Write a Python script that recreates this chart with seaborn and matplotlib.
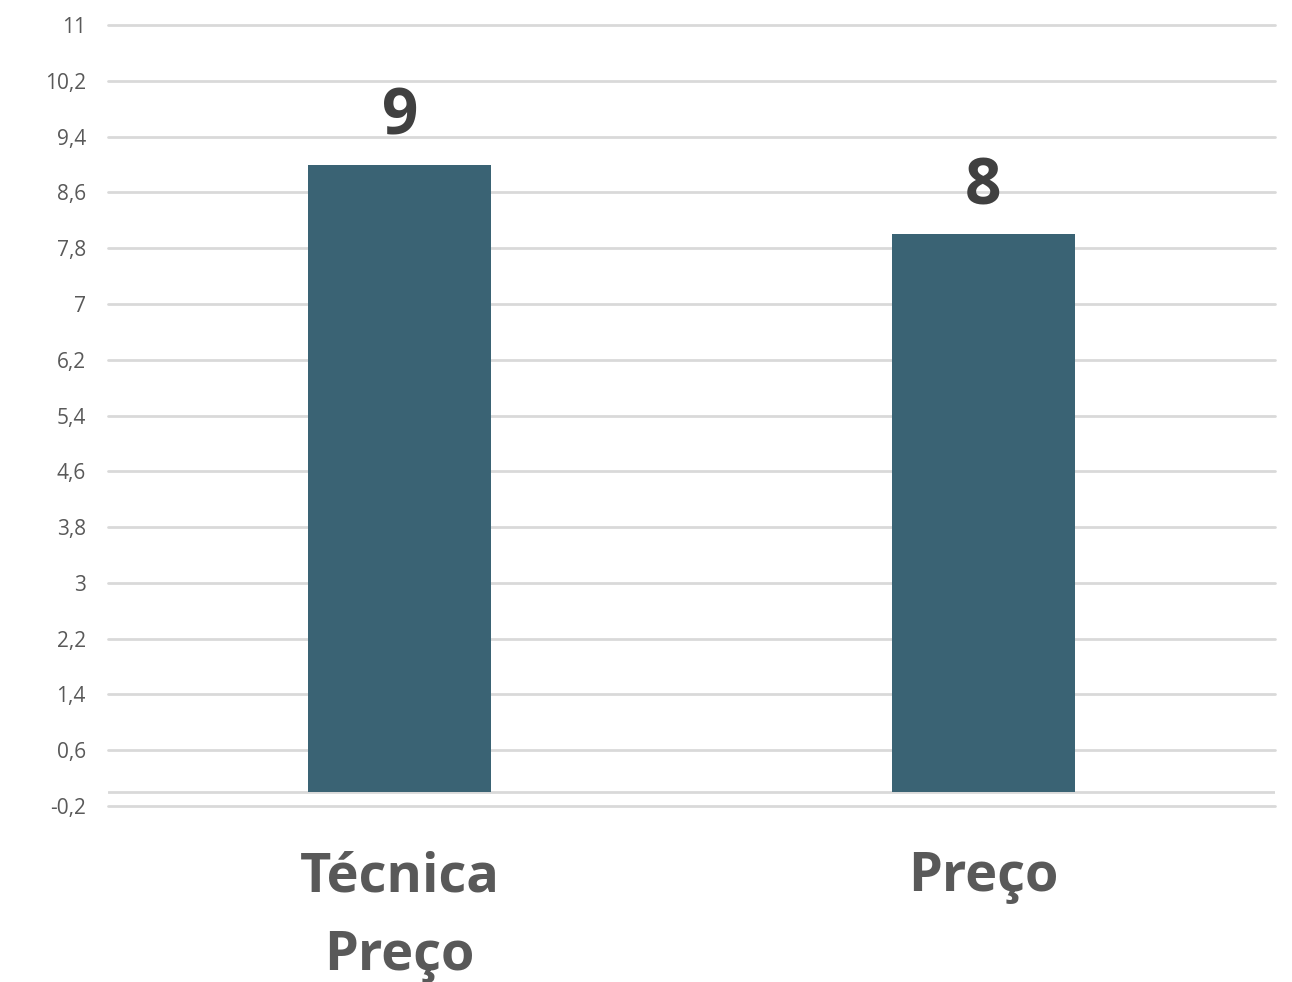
import matplotlib
matplotlib.use("Agg")
import matplotlib.pyplot as plt
import seaborn as sns
import pandas as pd

categories = ["Técnica\nPreço", "Preço"]
values = [9, 8]
y_ticks = [-0.2, 0.6, 1.4, 2.2, 3.0, 3.8, 4.6, 5.4, 6.2, 7.0, 7.8, 8.6, 9.4, 10.2, 11.0]
y_tick_labels = ["-0,2", "0,6", "1,4", "2,2", "3", "3,8", "4,6", "5,4", "6,2", "7", "7,8", "8,6", "9,4", "10,2", "11"]

sns.set_theme(style="white")
plt.rcParams["font.family"] = ["Open Sans", "DejaVu Sans"]

df = pd.DataFrame({"categoria": categories, "valor": values})

fig = plt.figure(figsize=(12.92, 9.82), dpi=100)
ax = fig.add_axes([0.0836, 0.1792, 0.9032, 0.7953])

sns.barplot(data=df, x="categoria", y="valor", color="#3A6374", width=0.314,
            saturation=1, linewidth=0, edgecolor="none", ax=ax, zorder=3)

ax.set_ylim(-0.2, 11)
ax.set_xlim(-0.5, 1.5)
ax.set_yticks(y_ticks)
ax.set_yticklabels(y_tick_labels, fontsize=15, color="#595959")
ax.tick_params(axis="y", length=0, pad=16)
ax.tick_params(axis="x", length=0, pad=32)
ax.grid(axis="y", color="#D9D9D9", linewidth=2, zorder=0)
for gl in ax.get_ygridlines():
    gl.set_clip_on(False)
ax.axhline(0, color="#D9D9D9", linewidth=2, zorder=2)
for s in ax.spines.values():
    s.set_visible(False)

ax.set_xlabel("")
ax.set_ylabel("")
for lbl in ax.get_xticklabels():
    lbl.set_fontsize(39)
    lbl.set_fontweight("bold")
    lbl.set_color("#595959")
    lbl.set_linespacing(1.6)
    lbl.set_verticalalignment("top")

for p, v in zip(ax.patches, values):
    ax.annotate(f"{v}", (p.get_x() + p.get_width() / 2, p.get_height()),
                xytext=(0, 10), textcoords="offset points",
                ha="center", va="bottom", fontsize=46, fontweight="bold",
                color="#404040")

fig.savefig("out.png", dpi=100)
